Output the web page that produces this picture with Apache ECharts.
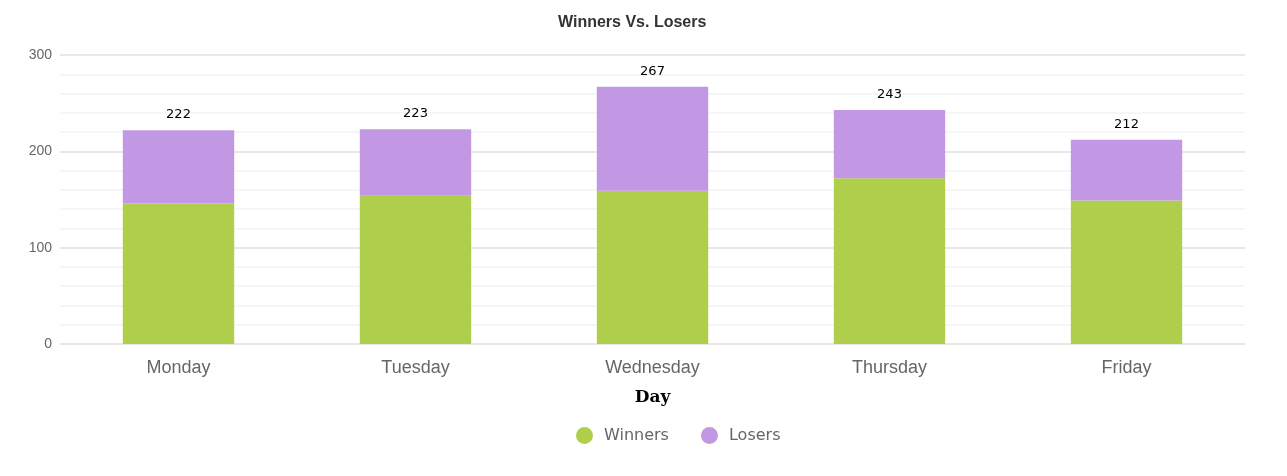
<!DOCTYPE html>
<html>
<head>
<meta charset="utf-8">
<script src="https://cdn.jsdelivr.net/npm/echarts@6/dist/echarts.min.js"></script>
<style>
  html, body { margin: 0; padding: 0; background: #fff; }
  #chart { width: 1287px; height: 476px; }
</style>
</head>
<body>
<div id="chart"></div>
<script>
var days = ['Monday', 'Tuesday', 'Wednesday', 'Thursday', 'Friday'];
var winners = [146, 154, 159, 172, 149];
var losers = [76, 69, 108, 71, 63];
var totals = [222, 223, 267, 243, 212];

var chart = echarts.init(document.getElementById('chart'));

var option = {
  title: {
    text: 'Winners Vs. Losers',
    left: 553,
    top: 10,
    textStyle: {
      fontFamily: 'Liberation Sans',
      fontSize: 16,
      fontWeight: 'bold',
      color: '#333333'
    }
  },
  legend: {
    top: 422,
    left: 571,
    icon: 'circle',
    itemWidth: 17,
    itemHeight: 17,
    itemGap: 32,
    textStyle: {
      fontFamily: 'DejaVu Sans',
      fontSize: 16,
      color: '#666666',
      padding: [0, 0, 0, 6]
    },
    data: ['Winners', 'Losers']
  },
  grid: {
    left: 60,
    right: 42,
    top: 55,
    bottom: 132,
    containLabel: false
  },
  xAxis: {
    type: 'category',
    data: days,
    name: 'Day',
    nameLocation: 'middle',
    nameGap: 45,
    nameTextStyle: {
      fontFamily: 'DejaVu Serif',
      fontSize: 17,
      fontWeight: 'bold',
      color: '#000000'
    },
    axisLine: { show: false },
    axisTick: { show: false },
    axisLabel: {
      fontFamily: 'Liberation Sans',
      fontSize: 18,
      color: '#666666',
      margin: 15
    }
  },
  yAxis: {
    type: 'value',
    min: 0,
    max: 300,
    interval: 100,
    axisLine: { show: false },
    axisTick: { show: false },
    axisLabel: {
      fontFamily: 'Liberation Sans',
      fontSize: 14,
      color: '#666666',
      margin: 8,
      padding: [7, 0, 0, 0]
    },
    splitLine: { lineStyle: { color: '#e8e8e8', width: 2 } },
    minorTick: { show: false, splitNumber: 5 },
    minorSplitLine: { show: true, lineStyle: { color: '#f6f6f6', width: 2 } }
  },
  series: [
    {
      name: 'Winners',
      type: 'bar',
      stack: 'total',
      barWidth: '47%',
      data: winners,
      itemStyle: { color: '#afcf4c' }
    },
    {
      name: 'Losers',
      type: 'bar',
      stack: 'total',
      data: losers,
      itemStyle: { color: '#c298e5' },
      label: {
        show: true,
        position: 'top',
        distance: 9,
        fontFamily: 'DejaVu Sans',
        fontSize: 13,
        color: '#000000',
        formatter: function (p) { return totals[p.dataIndex]; }
      }
    }
  ]
};

chart.setOption(option);
</script>
</body>
</html>
